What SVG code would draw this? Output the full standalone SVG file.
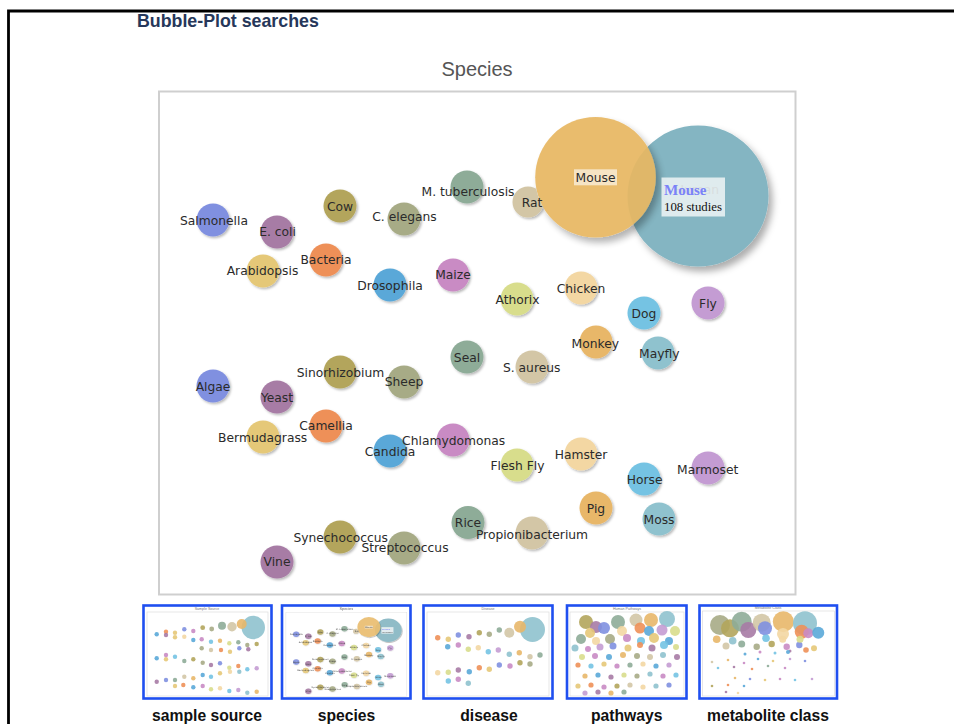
<svg xmlns="http://www.w3.org/2000/svg" xmlns:xlink="http://www.w3.org/1999/xlink" width="954" height="724" viewBox="0 0 954 724">
<style>
.lbl{font-family:"DejaVu Sans",Verdana,sans-serif;font-size:12.3px;fill:#2b2b2b;text-anchor:middle}
.b{filter:url(#sh)}
.p1{fill:#8090e0}.p2{fill:#a77ba5}.p3{fill:#b3a55c}.p4{fill:#a7ab86}
.p5{fill:#8eac98}.p6{fill:#d3c6a6}.p7{fill:#ee9058}.p8{fill:#e5c878}
.p9{fill:#5aa8d8}.p10{fill:#c98bc4}.p11{fill:#d8dd8c}.p12{fill:#f3d7a3}
.p13{fill:#74c3e3}.p14{fill:#c49cd3}.p15{fill:#e8b769}.p16{fill:#8fc2ce}
.thumb{fill:none;stroke:#1f4ff0;stroke-width:2.6}
.tframe{fill:#fff;stroke:#dcdcdc;stroke-width:0.7}
.ttl{font-family:"Liberation Sans",Arial,sans-serif;font-size:3.6px;fill:#777;text-anchor:middle}
.cap{font-family:"Liberation Sans",Arial,sans-serif;font-size:15.7px;font-weight:bold;fill:#111;text-anchor:middle}
.td circle{opacity:0.9}
</style>
<defs>
<filter id="sh" x="-40%" y="-40%" width="180%" height="180%">
<feDropShadow dx="1.5" dy="1.6" stdDeviation="1.2" flood-color="#000" flood-opacity="0.28"/>
</filter>
<filter id="shBig" x="-30%" y="-30%" width="160%" height="160%">
<feDropShadow dx="4" dy="5" stdDeviation="3.5" flood-color="#000" flood-opacity="0.32"/>
</filter>
<mask id="notMouse" maskUnits="userSpaceOnUse" x="0" y="0" width="954" height="724">
<rect x="0" y="0" width="954" height="724" fill="#fff"/>
<circle cx="595.5" cy="177.3" r="60.3" fill="#000"/>
</mask>
<clipPath id="clipSpecies"><rect x="282" y="606" width="128" height="92"/></clipPath>
</defs>
<rect x="0" y="0" width="954" height="724" fill="#fff"/>
<path d="M8.5 724 V11 H954" fill="none" stroke="#000" stroke-width="2.8"/>
<text x="137" y="27" font-family="Liberation Sans,Arial,sans-serif" font-size="17.8" font-weight="bold" fill="#26375a">Bubble-Plot searches</text>

<g id="chart">
<text x="477" y="76" font-family="Liberation Sans,Arial,sans-serif" font-size="20" fill="#555" text-anchor="middle">Species</text>
<rect x="159" y="91.5" width="636.5" height="503" fill="#fff" stroke="#cfcfcf" stroke-width="2"/>
<g id="connectors"/>
<g id="nodes">
<g id="n-human"><circle cx="698" cy="196" r="70.5" fill="#84b5c2" filter="url(#shBig)"/><text class="lbl" x="697" y="193.6" style="fill:#555">Human</text></g>
<g id="n-mouse"><circle cx="595.5" cy="177.3" r="60.3" fill="#e8b864" opacity="0.93" filter="url(#shBig)"/><rect x="574" y="169.3" width="43" height="16" fill="#fff" opacity="0.6"/><text class="lbl" x="595.5" y="181.8">Mouse</text></g>
<g id="n-rat"><circle class="b p6" cx="528" cy="202" r="15.5" mask="url(#notMouse)"/><text class="lbl" x="532" y="206.9">Rat</text></g>
<g id="n-salmonella"><circle class="b p1" cx="213" cy="220" r="16.5"/><text class="lbl" x="214" y="225.4">Salmonella</text></g>
<g id="n-ecoli"><circle class="b p2" cx="277" cy="232" r="16.5"/><text class="lbl" x="277.5" y="236.4">E. coli</text></g>
<g id="n-cow"><circle class="b p3" cx="340" cy="206" r="16.5"/><text class="lbl" x="340" y="211.4">Cow</text></g>
<g id="n-celegans"><circle class="b p4" cx="404" cy="219" r="16.5"/><text class="lbl" x="404.5" y="221.4">C. elegans</text></g>
<g id="n-mtb"><circle class="b p5" cx="467" cy="187" r="16.5"/><text class="lbl" x="468" y="196.4">M. tuberculosis</text></g>
<g id="n-bacteria"><circle class="b p7" cx="326" cy="260" r="16.5"/><text class="lbl" x="326" y="264.4">Bacteria</text></g>
<g id="n-arabidopsis"><circle class="b p8" cx="263" cy="271" r="16.5"/><text class="lbl" x="262.5" y="275.4">Arabidopsis</text></g>
<g id="n-drosophila"><circle class="b p9" cx="390" cy="285" r="16.5"/><text class="lbl" x="390" y="290">Drosophila</text></g>
<g id="n-maize"><circle class="b p10" cx="453" cy="275" r="16.5"/><text class="lbl" x="453" y="279.4">Maize</text></g>
<g id="n-athorix"><circle class="b p11" cx="517" cy="299" r="16.5"/><text class="lbl" x="517.5" y="304.4">Athorix</text></g>
<g id="n-chicken"><circle class="b p12" cx="581" cy="288" r="16.5"/><text class="lbl" x="581" y="293.4">Chicken</text></g>
<g id="n-dog"><circle class="b p13" cx="644" cy="313" r="16.5"/><text class="lbl" x="644" y="318.4">Dog</text></g>
<g id="n-fly"><circle class="b p14" cx="708" cy="303" r="16.5"/><text class="lbl" x="708" y="308.4">Fly</text></g>
<g id="n-monkey"><circle class="b p15" cx="596" cy="342" r="16.5"/><text class="lbl" x="595.3" y="347.7">Monkey</text></g>
<g id="n-mayfly"><circle class="b p16" cx="658" cy="353" r="16.5"/><text class="lbl" x="659.3" y="358.4">Mayfly</text></g>
<g id="n-seal"><circle class="b p5" cx="467" cy="357" r="16.5"/><text class="lbl" x="467" y="361.9">Seal</text></g>
<g id="n-saureus"><circle class="b p6" cx="532" cy="367" r="16.5"/><text class="lbl" x="531.7" y="372.1">S. aureus</text></g>
<g id="n-algae"><circle class="b p1" cx="213" cy="386" r="16.5"/><text class="lbl" x="213" y="390.9">Algae</text></g>
<g id="n-yeast"><circle class="b p2" cx="277" cy="397" r="16.5"/><text class="lbl" x="277" y="401.9">Yeast</text></g>
<g id="n-sinorhizobium"><circle class="b p3" cx="340" cy="372" r="16.5"/><text class="lbl" x="340.5" y="377.1">Sinorhizobium</text></g>
<g id="n-sheep"><circle class="b p4" cx="404" cy="382" r="16.5"/><text class="lbl" x="404" y="386.4">Sheep</text></g>
<g id="n-bermudagrass"><circle class="b p8" cx="263" cy="437" r="16.5"/><text class="lbl" x="262.7" y="441.7">Bermudagrass</text></g>
<g id="n-camellia"><circle class="b p7" cx="326" cy="426" r="16.5"/><text class="lbl" x="326" y="430.4">Camellia</text></g>
<g id="n-candida"><circle class="b p9" cx="390" cy="451" r="16.5"/><text class="lbl" x="390" y="456.1">Candida</text></g>
<g id="n-chlamydomonas"><circle class="b p10" cx="453" cy="440" r="16.5"/><text class="lbl" x="453.7" y="445.4">Chlamydomonas</text></g>
<g id="n-fleshfly"><circle class="b p11" cx="517" cy="465" r="16.5"/><text class="lbl" x="517.5" y="470.1">Flesh Fly</text></g>
<g id="n-hamster"><circle class="b p12" cx="581" cy="454" r="16.5"/><text class="lbl" x="581" y="458.7">Hamster</text></g>
<g id="n-horse"><circle class="b p13" cx="644" cy="479" r="16.5"/><text class="lbl" x="644.7" y="484.4">Horse</text></g>
<g id="n-marmoset"><circle class="b p14" cx="708" cy="468" r="16.5"/><text class="lbl" x="707.7" y="473.7">Marmoset</text></g>
<g id="n-pig"><circle class="b p15" cx="596" cy="508" r="16.5"/><text class="lbl" x="596" y="512.9">Pig</text></g>
<g id="n-moss"><circle class="b p16" cx="659" cy="519" r="16.5"/><text class="lbl" x="659" y="523.9">Moss</text></g>
<g id="n-rice"><circle class="b p5" cx="468" cy="522.5" r="16.5"/><text class="lbl" x="468" y="527.4">Rice</text></g>
<g id="n-propionibacterium"><circle class="b p6" cx="532" cy="533" r="16.5"/><text class="lbl" x="532" y="538.7">Propionibacterium</text></g>
<g id="n-synechococcus"><circle class="b p3" cx="340" cy="537" r="16.5"/><text class="lbl" x="340.7" y="541.7">Synechococcus</text></g>
<g id="n-streptococcus"><circle class="b p4" cx="404" cy="548" r="16.5"/><text class="lbl" x="405" y="552.4">Streptococcus</text></g>
<g id="n-vine"><circle class="b p2" cx="277" cy="562" r="16.5"/><text class="lbl" x="277" y="566.4">Vine</text></g>
<g id="tooltip">
<rect x="661.5" y="177.5" width="63.5" height="39" fill="#eef3f4" opacity="0.86"/>
<text x="664" y="195" font-family="Liberation Serif,Times New Roman,serif" font-size="15" font-weight="bold" fill="#7a82f8">Mouse</text>
<text x="664" y="211" font-family="Liberation Serif,Times New Roman,serif" font-size="12.8" fill="#111">108 studies</text>
</g>
</g>
</g>

<g id="thumb-sample-source">
<rect x="143.5" y="605.5" width="128" height="93" fill="#fff"/>
<rect class="tframe" x="147" y="612" width="121" height="84"/>
<text class="ttl" x="207" y="610">Sample Source</text>
<g class="td">
<circle class="p9" cx="156.7" cy="634.3" r="2.2"/><circle class="p7" cx="166" cy="631.7" r="2.2"/><circle class="p8" cx="175" cy="632.7" r="2.2"/><circle class="p1" cx="184.3" cy="629.3" r="2.2"/><circle class="p10" cx="193.3" cy="631" r="2.2"/><circle class="p3" cx="202.7" cy="627.7" r="2.4"/><circle class="p4" cx="211.7" cy="629" r="2.4"/>
<circle class="p5" cx="222" cy="625.7" r="4"/><circle class="p6" cx="232" cy="626.7" r="4.7"/><circle class="p16" cx="253.3" cy="627.5" r="11.7"/><circle class="p15" cx="241.7" cy="624" r="5"/>
<circle class="p2" cx="166" cy="635" r="2.2"/><circle class="p8" cx="175" cy="637.3" r="2.2"/><circle class="p12" cx="184.3" cy="636.7" r="2.2"/><circle class="p9" cx="193.3" cy="640" r="2.2"/><circle class="p10" cx="201.7" cy="639.3" r="2.2"/><circle class="p13" cx="211" cy="641.7" r="2.2"/><circle class="p15" cx="220" cy="640.7" r="2.2"/><circle class="p11" cx="229.3" cy="643.3" r="2.2"/><circle class="p5" cx="238.3" cy="642.3" r="2.2"/><circle class="p4" cx="247.3" cy="645" r="2.2"/><circle class="p3" cx="256.7" cy="644" r="2.2"/>
<circle class="p4" cx="201.7" cy="648.3" r="2.2"/><circle class="p6" cx="211" cy="650" r="2.2"/><circle class="p7" cx="221" cy="650" r="2.2"/><circle class="p8" cx="230" cy="651.7" r="2.2"/><circle class="p1" cx="239.3" cy="648.3" r="2.2"/><circle class="p2" cx="248.3" cy="649.3" r="2.2"/>
<circle class="p9" cx="156.7" cy="658.3" r="2.2"/><circle class="p8" cx="166" cy="659.3" r="2.2"/><circle class="p10" cx="166" cy="655" r="2.2"/><circle class="p13" cx="175" cy="656.7" r="2.2"/><circle class="p5" cx="184.3" cy="661" r="2.2"/><circle class="p3" cx="193.3" cy="659.3" r="2.2"/><circle class="p4" cx="202.7" cy="662.7" r="2.2"/><circle class="p2" cx="211" cy="665" r="2.2"/><circle class="p1" cx="220" cy="663.3" r="2.2"/><circle class="p11" cx="229.3" cy="667.7" r="2.2"/><circle class="p7" cx="238.3" cy="666" r="2.2"/><circle class="p13" cx="247.3" cy="669.3" r="2.2"/><circle class="p14" cx="256.7" cy="668.3" r="2.2"/>
<circle class="p6" cx="184.3" cy="676.7" r="2.2"/><circle class="p15" cx="193.3" cy="678.3" r="2.2"/><circle class="p9" cx="202.7" cy="675" r="2.2"/><circle class="p13" cx="211" cy="676.7" r="2.2"/><circle class="p8" cx="220" cy="673.3" r="2.2"/><circle class="p12" cx="230" cy="671.7" r="2.2"/><circle class="p16" cx="239.3" cy="671.7" r="2.2"/>
<circle class="p2" cx="156.7" cy="681.7" r="2.2"/><circle class="p1" cx="166" cy="680" r="2.2"/><circle class="p5" cx="175" cy="680" r="2.2"/><circle class="p8" cx="175" cy="686" r="2.2"/><circle class="p7" cx="183.3" cy="685" r="2.2"/><circle class="p9" cx="193.3" cy="687.3" r="2.2"/><circle class="p10" cx="202.7" cy="686" r="2.2"/><circle class="p11" cx="211" cy="689.3" r="2.2"/><circle class="p12" cx="220" cy="688.3" r="2.2"/><circle class="p13" cx="229.3" cy="691" r="2.2"/><circle class="p14" cx="238.3" cy="690" r="2.2"/><circle class="p16" cx="247.3" cy="692.7" r="2.2"/><circle class="p15" cx="256.7" cy="691.7" r="2.2"/>
</g>
<rect class="thumb" x="143.5" y="605.5" width="128" height="93"/>
</g>

<g id="thumb-species">
<rect x="282" y="605.5" width="128.5" height="93" fill="#fff"/>
<g clip-path="url(#clipSpecies)" opacity="0.9"><use xlink:href="#chart" href="#chart" transform="translate(255.7 597.5) scale(0.19 0.167)"/></g>
<rect class="thumb" x="282" y="605.5" width="128.5" height="93"/>
</g>

<g id="thumb-disease">
<rect x="423.5" y="605.5" width="129" height="93" fill="#fff"/>
<rect class="tframe" x="427" y="612" width="122" height="84"/>
<text class="ttl" x="488" y="610">Disease</text>
<g class="td">
<circle class="p7" cx="437.7" cy="637.7" r="2.7"/><circle class="p8" cx="448.3" cy="639.3" r="2.7"/><circle class="p1" cx="458.3" cy="635" r="2.7"/><circle class="p2" cx="469" cy="636.7" r="2.7"/><circle class="p3" cx="479.3" cy="632.7" r="2.7"/><circle class="p4" cx="489.3" cy="634.3" r="2.7"/><circle class="p5" cx="499.3" cy="630" r="2.7"/>
<circle class="p6" cx="509.3" cy="632.7" r="5"/><circle class="p16" cx="532.5" cy="629.5" r="12.5"/><circle class="p15" cx="520" cy="626.7" r="6"/>
<circle class="p9" cx="447.7" cy="646.7" r="2.7"/><circle class="p10" cx="458.3" cy="645" r="2.7"/><circle class="p11" cx="468.3" cy="649.3" r="2.7"/><circle class="p12" cx="478.3" cy="647.7" r="2.7"/><circle class="p13" cx="488.3" cy="651.7" r="2.7"/><circle class="p14" cx="498.3" cy="650" r="2.7"/><circle class="p16" cx="509.3" cy="654.3" r="2.7"/><circle class="p15" cx="519.3" cy="652.7" r="2.7"/><circle class="p6" cx="530" cy="656.7" r="2.7"/><circle class="p5" cx="540" cy="655" r="2.7"/>
<circle class="p3" cx="520" cy="662.7" r="2.7"/><circle class="p4" cx="530" cy="664" r="2.7"/><circle class="p10" cx="510" cy="666" r="2.7"/><circle class="p1" cx="499.3" cy="665" r="2.7"/><circle class="p8" cx="489.3" cy="669.3" r="2.7"/><circle class="p7" cx="479.3" cy="667.7" r="2.7"/><circle class="p9" cx="469.3" cy="671.7" r="2.7"/><circle class="p2" cx="458.3" cy="670" r="2.7"/><circle class="p11" cx="448.3" cy="672.3" r="2.7"/><circle class="p12" cx="437.7" cy="672.7" r="2.7"/>
<circle class="p13" cx="448.3" cy="681" r="2.7"/><circle class="p10" cx="458.3" cy="679.3" r="2.7"/><circle class="p16" cx="468.3" cy="683.3" r="2.7"/>
</g>
<rect class="thumb" x="423.5" y="605.5" width="129" height="93"/>
</g>

<g id="thumb-pathways">
<rect x="567" y="605.5" width="119.5" height="93" fill="#fff"/>
<rect class="tframe" x="570" y="612" width="114" height="84"/>
<text class="ttl" x="627" y="610">Human Pathways</text>
<g class="td">
<circle class="p3" cx="586" cy="622" r="7"/><circle class="p2" cx="596" cy="627" r="6"/><circle class="p1" cx="604" cy="628" r="6"/><circle class="p8" cx="590" cy="633" r="5"/><circle class="p5" cx="618" cy="622" r="7"/><circle class="p12" cx="622" cy="631" r="5"/><circle class="p6" cx="636" cy="620" r="6.5"/><circle class="p15" cx="651" cy="620" r="7"/><circle class="p16" cx="667" cy="619" r="8"/><circle class="p7" cx="640" cy="628" r="5.5"/><circle class="p9" cx="649" cy="631" r="5"/><circle class="p14" cx="662" cy="630" r="5.5"/><circle class="p11" cx="675" cy="631" r="5"/>
<circle class="p5" cx="581" cy="639" r="5"/><circle class="p12" cx="596" cy="641" r="4"/><circle class="p4" cx="610" cy="639" r="5"/><circle class="p10" cx="627" cy="638" r="4"/><circle class="p13" cx="641" cy="641" r="4"/><circle class="p8" cx="654" cy="638" r="5"/><circle class="p9" cx="669" cy="641" r="4"/>
<circle class="p16" cx="575" cy="648" r="3.5"/><circle class="p10" cx="588" cy="649" r="3"/><circle class="p14" cx="600" cy="647" r="3.5"/><circle class="p1" cx="613" cy="646" r="3.5"/><circle class="p8" cx="628" cy="648" r="3.5"/><circle class="p7" cx="640" cy="645" r="3"/><circle class="p2" cx="652" cy="648" r="3.5"/><circle class="p13" cx="664" cy="645" r="4"/><circle class="p11" cx="676" cy="647" r="3"/>
<circle class="p11" cx="582" cy="657" r="3"/><circle class="p10" cx="595" cy="656" r="3"/><circle class="p9" cx="609" cy="657" r="3"/><circle class="p15" cx="623" cy="655" r="3"/><circle class="p4" cx="637" cy="656" r="3"/><circle class="p6" cx="650" cy="657" r="3"/><circle class="p16" cx="663" cy="655" r="3"/><circle class="p2" cx="677" cy="657" r="3"/>
<circle class="p7" cx="578" cy="665" r="2.6"/><circle class="p13" cx="591" cy="666" r="2.6"/><circle class="p8" cx="604" cy="664" r="2.6"/><circle class="p10" cx="617" cy="666" r="2.6"/><circle class="p5" cx="630" cy="665" r="2.6"/><circle class="p12" cx="643" cy="664" r="2.6"/><circle class="p9" cx="656" cy="666" r="2.6"/><circle class="p14" cx="669" cy="665" r="2.6"/>
<circle class="p15" cx="585" cy="676" r="2.6"/><circle class="p9" cx="598" cy="675" r="2.6"/><circle class="p2" cx="611" cy="677" r="2.6"/><circle class="p11" cx="624" cy="675" r="2.6"/><circle class="p4" cx="637" cy="676" r="2.6"/><circle class="p16" cx="650" cy="674" r="2.6"/><circle class="p10" cx="663" cy="676" r="2.6"/><circle class="p13" cx="676" cy="675" r="2.6"/>
<circle class="p8" cx="578" cy="686" r="2.6"/><circle class="p7" cx="591" cy="685" r="2.6"/><circle class="p10" cx="604" cy="687" r="2.6"/><circle class="p3" cx="617" cy="686" r="2.6"/><circle class="p6" cx="630" cy="685" r="2.6"/><circle class="p12" cx="643" cy="687" r="2.6"/><circle class="p16" cx="656" cy="686" r="2.6"/><circle class="p1" cx="669" cy="685" r="2.6"/>
<circle class="p14" cx="585" cy="693" r="2.6"/><circle class="p2" cx="598" cy="692" r="2.6"/><circle class="p15" cx="611" cy="693" r="2.6"/><circle class="p5" cx="624" cy="692" r="2.6"/>
</g>
<rect class="thumb" x="567" y="605.5" width="119.5" height="93"/>
</g>

<g id="thumb-metabolite-class">
<rect x="699.5" y="605.5" width="137.5" height="93" fill="#fff"/>
<rect class="tframe" x="702.5" y="611" width="132" height="85"/>
<text class="ttl" x="768" y="609">Metabolite Class</text>
<g class="td">
<circle class="p4" cx="720" cy="625" r="10"/><circle class="p3" cx="730" cy="628.3" r="9"/><circle class="p5" cx="741.7" cy="621.7" r="10"/><circle class="p2" cx="748.3" cy="630" r="8"/><circle class="p6" cx="761.7" cy="622.7" r="9"/><circle class="p1" cx="765" cy="628.3" r="7"/><circle class="p15" cx="783.3" cy="621.7" r="10.5"/><circle class="p12" cx="783" cy="634" r="6"/><circle class="p16" cx="805" cy="623.3" r="12"/><circle class="p7" cx="801.7" cy="631.7" r="7"/><circle class="p10" cx="808.3" cy="633.3" r="5"/><circle class="p9" cx="818.3" cy="632.7" r="6"/>
<circle class="p15" cx="716.7" cy="639.3" r="3.8"/><circle class="p6" cx="726" cy="646" r="3.5"/><circle class="p16" cx="732.7" cy="640.7" r="3.8"/><circle class="p5" cx="741.7" cy="644" r="3.5"/><circle class="p4" cx="756.7" cy="646.7" r="3.2"/><circle class="p13" cx="766" cy="638.3" r="3.8"/><circle class="p3" cx="771.7" cy="644" r="3.2"/><circle class="p12" cx="782.7" cy="639.3" r="3.5"/><circle class="p10" cx="786.7" cy="646.7" r="3.2"/><circle class="p1" cx="799.3" cy="645" r="3.2"/><circle class="p11" cx="800" cy="639.3" r="3.5"/><circle class="p7" cx="806" cy="650" r="2.8"/><circle class="p8" cx="814" cy="648.3" r="3"/>
<circle class="p9" cx="745" cy="654" r="1.5"/><circle class="p10" cx="760" cy="652" r="1.5"/><circle class="p13" cx="775" cy="653" r="1.5"/><circle class="p2" cx="790" cy="651" r="1.5"/><circle class="p9" cx="788" cy="652" r="2"/>
<circle class="p6" cx="712" cy="662" r="1.3"/><circle class="p15" cx="728" cy="660" r="1.3"/><circle class="p10" cx="744" cy="663" r="1.3"/><circle class="p9" cx="758" cy="659" r="1.3"/><circle class="p8" cx="773" cy="661" r="1.3"/><circle class="p14" cx="790" cy="659" r="1.3"/><circle class="p1" cx="805" cy="661" r="1.3"/>
<circle class="p13" cx="718" cy="668" r="1.3"/><circle class="p2" cx="734" cy="667" r="1.3"/><circle class="p7" cx="752" cy="669" r="1.3"/><circle class="p5" cx="768" cy="666" r="1.3"/><circle class="p10" cx="785" cy="668" r="1.3"/>
<circle class="p15" cx="735" cy="678" r="1.3"/><circle class="p1" cx="750" cy="679" r="1.3"/><circle class="p8" cx="765" cy="680" r="1.3"/><circle class="p10" cx="780" cy="679" r="1.3"/><circle class="p13" cx="795" cy="680" r="1.3"/><circle class="p14" cx="812" cy="679" r="1.3"/>
<circle class="p3" cx="712" cy="686" r="1.3"/><circle class="p7" cx="728" cy="685" r="1.3"/><circle class="p9" cx="744" cy="686" r="1.3"/><circle class="p2" cx="726" cy="692" r="1.3"/><circle class="p12" cx="738" cy="693" r="1.3"/>
</g>
<rect class="thumb" x="699.5" y="605.5" width="137.5" height="93"/>
</g>

<g id="captions">
<text class="cap" x="207" y="721">sample source</text>
<text class="cap" x="346.5" y="721">species</text>
<text class="cap" x="489" y="721">disease</text>
<text class="cap" x="626.7" y="721">pathways</text>
<text class="cap" x="768" y="721">metabolite class</text>
</g>
</svg>
